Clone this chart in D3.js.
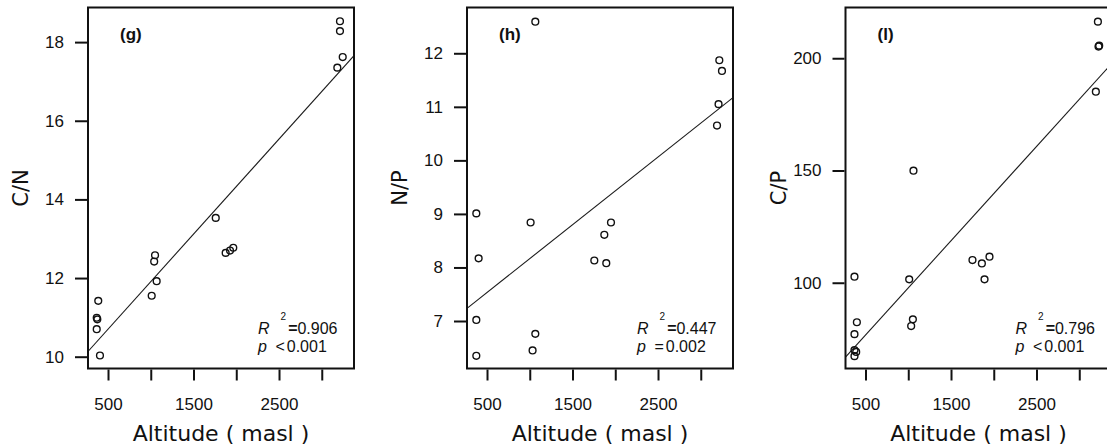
<!DOCTYPE html>
<html>
<head>
<meta charset="utf-8">
<script src="https://cdn.jsdelivr.net/npm/d3@7"></script>
<style>
  html, body { margin: 0; padding: 0; background: #fff; }
  svg { display: block; }
  .tick-label { font-family: "Liberation Sans", Arial, sans-serif; font-size: 17px; fill: #111; }
  .axis-title { font-family: "DejaVu Sans", Verdana, sans-serif; font-size: 22px; fill: #111; }
  .panel-tag { font-family: "Liberation Sans", Arial, sans-serif; font-size: 17px; font-weight: bold; fill: #111; }
  .stat { font-family: "Liberation Sans", Arial, sans-serif; font-size: 16px; fill: #111; }
</style>
</head>
<body>
<svg id="chart" width="1107" height="448"></svg>
<script>
// Altitude (m a.s.l.) of each sample and the three stoichiometric ratios
const altCN = [386, 368, 375, 368, 406, 1011, 1069, 1050, 1040, 1760, 1876, 1927, 1965, 3213, 3213, 3245, 3182];
const valCN = [11.42, 10.99, 10.95, 10.70, 10.03, 11.55, 11.92, 12.58, 12.42, 13.53, 12.64, 12.70, 12.77, 18.53, 18.28, 17.62, 17.35];

const altNP = [375, 402, 375, 375, 1065, 1010, 1065, 1033, 1755, 1872, 1895, 1950, 3217, 3248, 3208, 3190];
const valNP = [9.01, 8.17, 7.02, 6.35, 12.59, 8.84, 6.76, 6.45, 8.13, 8.61, 8.08, 8.84, 11.87, 11.67, 11.05, 10.65];

const altCP = [371, 399, 371, 371, 391, 371, 1061, 1011, 1054, 1034, 1751, 1861, 1950, 1892, 3218, 3225, 3233, 3194];
const valCP = [102.7, 82.4, 77.1, 70.0, 69.2, 67.3, 149.9, 101.5, 83.7, 80.7, 110.1, 108.6, 111.6, 101.5, 216.3, 205.2, 205.6, 185.1];

// Linear fits: [intercept, slope]
const fitCN = [9.49, 0.002418];
const fitNP = [6.90, 0.001265];
const fitCP = [55.7, 0.0420];

// Axis settings
const altDomain = [266, 3377];
const altTicks = [500, 1000, 1500, 2000, 2500, 3000];
const altTickLabels = ["500", "", "1500", "", "2500", ""];

const yDomainCN = [9.70, 18.88];
const yDomainNP = [6.113, 12.855];
const yDomainCP = [61.8, 222.6];
const yTicksCN = [10, 12, 14, 16, 18];
const yTicksNP = [7, 8, 9, 10, 11, 12];
const yTicksCP = [100, 150, 200];

const panelTags = ["(g)", "(h)", "(l)"];
const yTitles = ["C/N", "N/P", "C/P"];
const r2Labels = ["0.906", "0.447", "0.796"];
const pOps = ["<", "=", "<"];
const pLabels = ["0.001", "0.002", "0.001"];

const svg = d3.select("#chart");
const panelLefts = [88, 467, 845.5];
const panelW = 266, panelTop = 7.5, panelBottom = 368.5;

const panels = [
  { alt: altCN, val: valCN, fit: fitCN, yDomain: yDomainCN, yTicks: yTicksCN },
  { alt: altNP, val: valNP, fit: fitNP, yDomain: yDomainNP, yTicks: yTicksNP },
  { alt: altCP, val: valCP, fit: fitCP, yDomain: yDomainCP, yTicks: yTicksCP }
];

panels.forEach((p, i) => {
  const left = panelLefts[i];
  const right = left + panelW;
  const x = d3.scaleLinear().domain(altDomain).range([left, right]);
  const y = d3.scaleLinear().domain(p.yDomain).range([panelBottom, panelTop]);
  const g = svg.append("g");

  const clipId = "clip" + i;
  svg.append("clipPath").attr("id", clipId)
    .append("rect").attr("x", left).attr("y", panelTop)
    .attr("width", panelW).attr("height", panelBottom - panelTop);

  // Fitted regression line, clipped to the plotting region
  const fitLine = d3.line().x(d => x(d)).y(d => y(p.fit[0] + p.fit[1] * d));
  g.append("path")
    .attr("clip-path", `url(#${clipId})`)
    .attr("d", fitLine(altDomain))
    .attr("fill", "none").attr("stroke", "#1a1a1a").attr("stroke-width", 1.1);

  // Observations as open circles
  g.append("g").attr("clip-path", `url(#${clipId})`)
    .selectAll("circle").data(p.alt.map((a, k) => [a, p.val[k]]))
    .join("circle")
    .attr("cx", d => x(d[0])).attr("cy", d => y(d[1])).attr("r", 3.4)
    .attr("fill", "none").attr("stroke", "#111").attr("stroke-width", 1.4);

  // Frame
  g.append("rect").attr("x", left).attr("y", panelTop)
    .attr("width", panelW).attr("height", panelBottom - panelTop)
    .attr("fill", "none").attr("stroke", "#111").attr("stroke-width", 2);

  // X axis
  const xAxis = d3.axisBottom(x).tickValues(altTicks).tickSize(11).tickPadding(17)
    .tickFormat((d, k) => altTickLabels[k]);
  const xa = g.append("g").attr("transform", `translate(0,${panelBottom + 1})`).call(xAxis);
  xa.select(".domain").remove();
  xa.selectAll(".tick line").attr("stroke", "#111").attr("stroke-width", 2);
  xa.selectAll(".tick text").attr("class", "tick-label").attr("font-size", null).attr("font-family", null).attr("fill", null);

  // Y axis
  const yAxis = d3.axisLeft(y).tickValues(p.yTicks).tickSize(12).tickPadding(11)
    .tickFormat(d3.format("d"));
  const ya = g.append("g").attr("transform", `translate(${left - 1},0)`).call(yAxis);
  ya.select(".domain").remove();
  ya.selectAll(".tick line").attr("stroke", "#111").attr("stroke-width", 2);
  ya.selectAll(".tick text").attr("class", "tick-label").attr("font-size", null).attr("font-family", null).attr("fill", null);

  // Titles
  g.append("text").attr("class", "axis-title")
    .attr("x", (left + right) / 2).attr("y", 441).attr("text-anchor", "middle")
    .text("Altitude ( masl )");
  g.append("text").attr("class", "axis-title").style("font-size", "21px")
    .attr("transform", `translate(${left - 60},${(panelTop + panelBottom) / 2}) rotate(-90)`)
    .attr("text-anchor", "middle").text(yTitles[i]);

  // Panel tag
  g.append("text").attr("class", "panel-tag")
    .attr("x", left + 32).attr("y", 40).text(panelTags[i]);

  // Fit statistics: R² line and p line
  const sx = left + 170;
  const r2 = g.append("text").attr("class", "stat").attr("x", sx).attr("y", 334);
  r2.append("tspan").style("font-style", "italic").text("R");
  r2.append("tspan").attr("dx", 11).attr("dy", -14).style("font-size", "10px").text("2");
  r2.append("tspan").attr("dx", 2).attr("dy", 14).style("font-weight", "bold").text("=");
  r2.append("tspan").text(r2Labels[i]);

  const pv = g.append("text").attr("class", "stat").attr("x", sx).attr("y", 352);
  pv.append("tspan").style("font-style", "italic").text("p");
  pv.append("tspan").attr("dx", 8.5).text(pOps[i]);
  pv.append("tspan").attr("dx", 2).text(pLabels[i]);
});
</script>
</body>
</html>
